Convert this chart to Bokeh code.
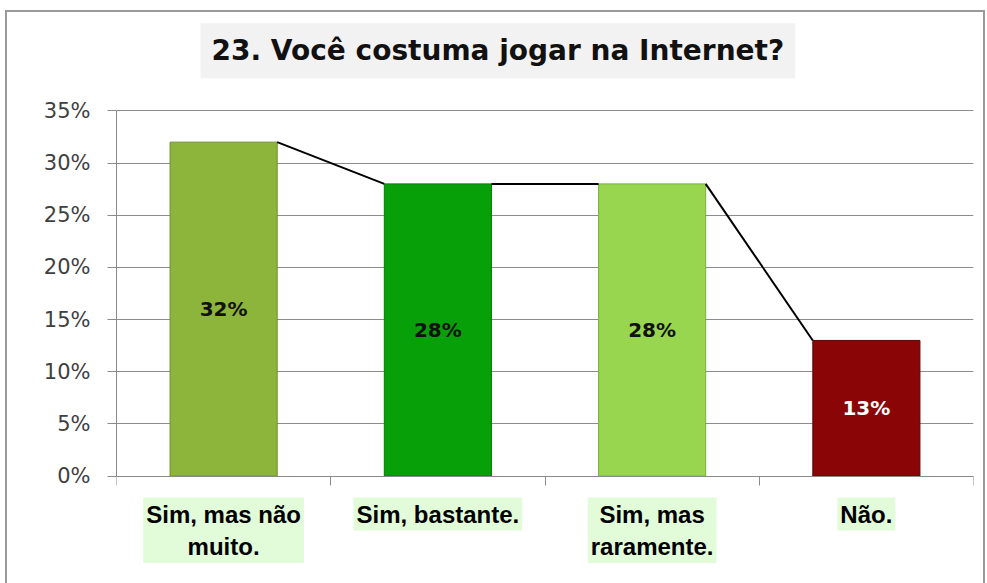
from bokeh.plotting import figure
from bokeh.models import (ColumnDataSource, FixedTicker, NumeralTickFormatter, Range1d)
from bokeh.core.properties import value
from bokeh.embed import file_html
from bokeh.resources import INLINE

# ---- data ----
categories = ["Sim, mas não\nmuito.", "Sim, bastante.", "Sim, mas\nraramente.", "Não."]
values = [0.32, 0.28, 0.28, 0.13]
value_labels = ["32%", "28%", "28%", "13%"]
bar_colors = ["#8db43b", "#08a008", "#97d64e", "#8a0606"]
bar_edges = ["#6e8f2c", "#067a06", "#78b03c", "#5e0303"]
value_text_colors = ["#111111", "#111111", "#111111", "#ffffff"]
y_ticks = [0, 0.05, 0.10, 0.15, 0.20, 0.25, 0.30, 0.35]
title_text = "23. Você costuma jogar na Internet?"

n = len(categories)
centers = [i + 0.5 for i in range(n)]
BAR_W = 0.5
Y_MIN = -0.100     # room under the zero line for the category labels
Y_MAX = 0.4442     # room above 35% for the title
LABEL_Y = -0.0205
TITLE_X = 1.78
TITLE_Y = 0.4075

p = figure(width=980, height=573, output_backend="svg", toolbar_location=None,
           x_range=Range1d(0, n), y_range=Range1d(Y_MIN, Y_MAX),
           min_border_left=109, min_border_right=14, min_border_top=0,
           min_border_bottom=5)
p.styles = {"border-top": "2px solid #9a9a9a", "border-left": "2px solid #9a9a9a",
            "border-right": "2px solid #9a9a9a",
            "margin-left": "5px", "margin-top": "10px"}
p.outline_line_color = None
p.background_fill_color = "white"
p.border_fill_color = "white"

# title
p.text(x=[TITLE_X], y=[TITLE_Y], text=[title_text], text_align="center",
       text_baseline="middle", text_font=value("DejaVu Sans"), text_font_size="28px",
       text_font_style="bold", text_color="#111111",
       background_fill_color="#f2f2f2", padding=11)

# bars
src = ColumnDataSource(dict(x=centers, top=values, color=bar_colors, edge=bar_edges,
                            mid=[v / 2 for v in values], lab=value_labels,
                            tcol=value_text_colors))
p.vbar(x="x", top="top", bottom=0, width=BAR_W, fill_color="color",
       line_color="edge", line_width=1, source=src)

# connecting line (right edge of bar i to left edge of bar i+1)
xs0 = [centers[i] + BAR_W / 2 for i in range(n - 1)]
xs1 = [centers[i + 1] - BAR_W / 2 for i in range(n - 1)]
p.segment(x0=xs0, y0=values[:-1], x1=xs1, y1=values[1:], line_color="black",
          line_width=2)

# value labels
p.text(x="x", y="mid", text="lab", source=src, text_color="tcol",
       text_align="center", text_baseline="middle", text_font_size="20px",
       text_font_style="bold", text_font=value("DejaVu Sans"))

# y axis
p.yaxis.ticker = FixedTicker(ticks=y_ticks)
p.yaxis.bounds = (0, 0.35)
p.yaxis.formatter = NumeralTickFormatter(format="0%")
p.yaxis.major_label_text_font = "DejaVu Sans"
p.yaxis.major_label_text_font_size = "21px"
p.yaxis.major_label_text_color = "#404040"
p.yaxis.major_label_standoff = 17
p.yaxis.major_tick_out = 9
p.yaxis.major_tick_in = 0
p.yaxis.minor_tick_line_color = None
p.yaxis.axis_line_color = "#8a8a8a"
p.yaxis.major_tick_line_color = "#8a8a8a"

# x axis sits on the zero line
p.xaxis.fixed_location = 0
p.xaxis.ticker = FixedTicker(ticks=list(range(n + 1)))
p.xaxis.major_label_overrides = {i: "" for i in range(n + 1)}
p.xaxis.major_tick_out = 9
p.xaxis.major_tick_in = 0
p.xaxis.minor_tick_line_color = None
p.xaxis.axis_line_color = "#8a8a8a"
p.xaxis.major_tick_line_color = "#8a8a8a"

p.xgrid.grid_line_color = None
p.ygrid.ticker = FixedTicker(ticks=y_ticks)
p.ygrid.grid_line_color = "#8c8c8c"

# category labels under the axis
cat_src = ColumnDataSource(dict(x=centers, y=[LABEL_Y] * n, t=categories))
p.text(x="x", y="y", text="t", source=cat_src, text_align="center",
       text_baseline="top", text_font=value("Liberation Sans"),
       text_font_size="24px", text_font_style="bold", text_color="#000000",
       text_line_height=1.2, background_fill_color="#e2fbd9", padding=3)

open("out.html", "w").write(file_html(p, INLINE))
